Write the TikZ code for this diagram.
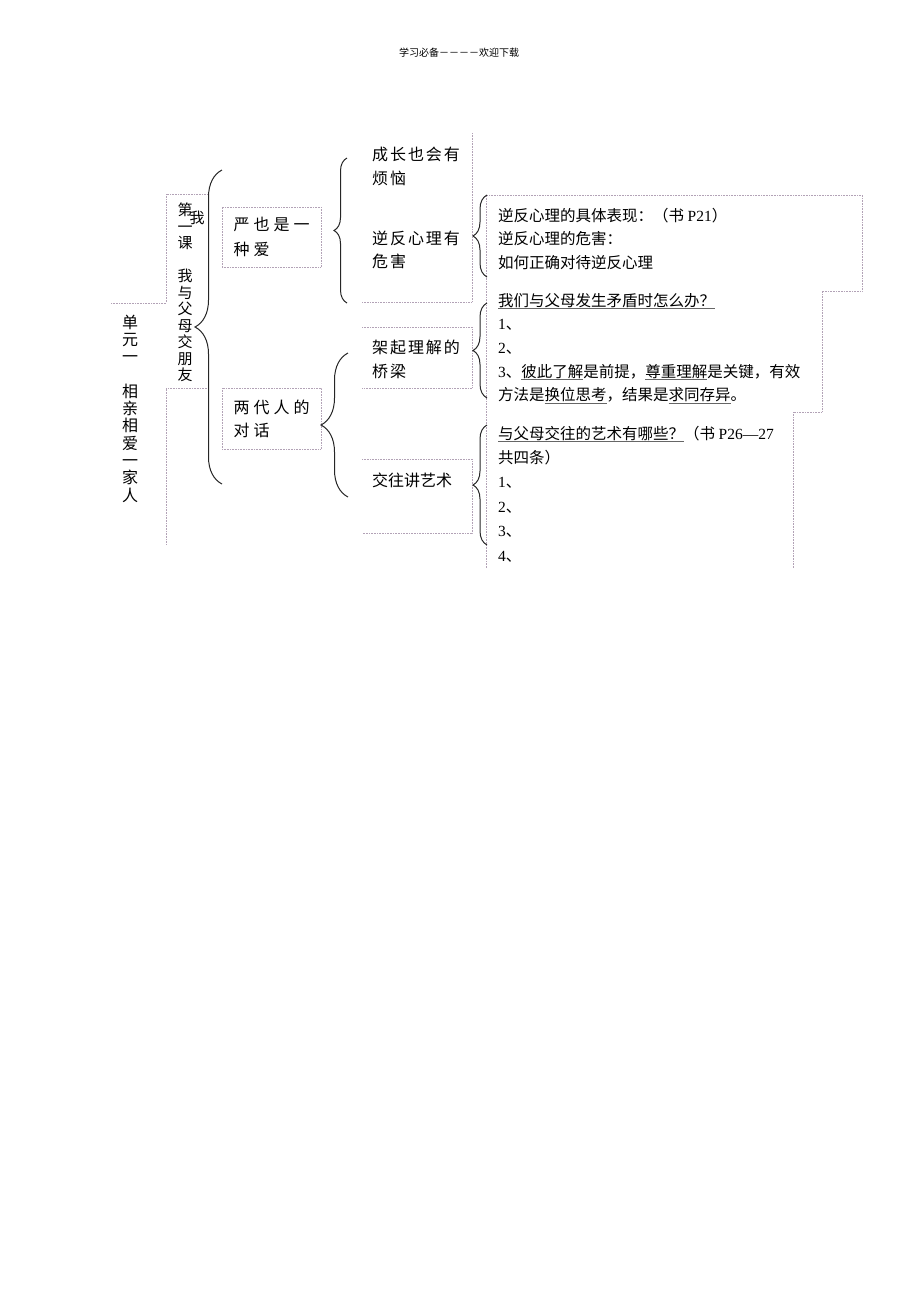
\documentclass[tikz,border=0pt]{standalone}
\usepackage{fontspec}
\usetikzlibrary{decorations.pathreplacing}
\setmainfont{Noto Sans CJK SC}
\newfontfamily\serifnum{Liberation Serif}
\newfontfamily\cjkwide[LetterSpace=25]{Noto Sans CJK SC}
\newfontfamily\cjkmid[LetterSpace=12]{Noto Sans CJK SC}
\definecolor{cellline}{RGB}{178,162,182}
\newcommand\ulmark[1]{\setbox0\hbox{#1}\rlap{\color{black!60}\rule[-3pt]{\wd0}{0.7pt}}\box0}
\begin{document}
\begin{tikzpicture}[x=1pt,y=-1pt,
    cell/.style={draw=cellline,densely dotted,line width=0.6pt},
    curly/.style={draw=black!85,line width=1pt,decorate,decoration={brace,amplitude=#1}},
    celltext/.style={inner sep=0pt,align=left,font=\cjkmid\fontsize{16}{23.5}\selectfont},
    rowtext/.style={anchor=base west,inner sep=0pt,font=\fontsize{15.5}{18}\selectfont}]
  \useasboundingbox (0,0) rectangle (920,1302);
  % page header
  \node[font=\fontsize{10}{12}\selectfont] (head) at (459,53) {学习必备－－－－欢迎下载};
  % frame lines
  \draw[cell] (111,303) -- (166,303) -- (166,194) -- (207,194);
  \draw[cell] (207,388) -- (166,388) -- (166,545);
  \draw[cell] (472,133) -- (472,302) -- (362,302);
  \draw[cell] (362,327) -- (472,327) -- (472,388) -- (362,388);
  \draw[cell] (362,459) -- (472,459) -- (472,533) -- (362,533);
  \draw[cell] (486,568) -- (486,195) -- (862,195) -- (862,291) -- (822,291)
    -- (822,412) -- (793,412) -- (793,568);
  % vertical titles
  \node[align=center,inner sep=0pt,font=\fontsize{16}{17.3}\selectfont] (unit) at (130,408.5)
    {单\\元\\一\\[17.3pt]相\\亲\\相\\爱\\一\\家\\人};
  \node[align=center,inner sep=0pt,font=\fontsize{15}{16.5}\selectfont] (lesson) at (185,292.5)
    {第\\一\\课\\[16.5pt]我\\与\\父\\母\\交\\朋\\友};
  \node[inner sep=0pt,font=\fontsize{15}{16.5}\selectfont] (stray) at (197,218) {我};
  % second level
  \node[celltext,font=\cjkwide\fontsize{16}{25}\selectfont,cell,minimum width=99pt,minimum height=60pt]
    (strict) at (271.5,237) {严也是一\\种爱};
  \node[celltext,font=\cjkwide\fontsize{16}{23}\selectfont,cell,minimum width=99pt,minimum height=61pt]
    (dialog) at (271.5,418.5) {两代人的\\对话};
  % third level
  \node[celltext,anchor=west] (grow) at (372,166.5) {成长也会有\\烦恼};
  \node[celltext,anchor=west] (rebel) at (372,250) {逆反心理有\\危害};
  \node[celltext,anchor=west] (bridge) at (372,359.5) {架起理解的\\桥梁};
  \node[celltext,anchor=west,font=\fontsize{16}{20}\selectfont] (art) at (372,480) {交往讲艺术};
  % braces
  \draw[curly=27] (222,484) -- (222,170);
  \draw[curly=13] (347,303) -- (347,158);
  \draw[curly=14] (487,277) -- (487,195);
  \draw[curly=14] (487,398) -- (487,303);
  \draw[curly=27] (348,497) -- (348,353);
  \draw[curly=14] (487,545) -- (487,425);
  % notes
  \foreach \t [count=\i] in {{逆反心理的具体表现：（书 {\serifnum P21}）},{逆反心理的危害：},{如何正确对待逆反心理}}
    \node[rowtext] (harm-\i) at (498,{221+23.5*(\i-1)}) {\t};
  \foreach \t [count=\i] in {{\ulmark{我们与父母发生矛盾时怎么办？}},{{\serifnum 1}、},{{\serifnum 2}、},
      {{\serifnum 3}、\ulmark{彼此了解}是前提，\ulmark{尊重理解}是关键，有效},
      {方法是\ulmark{换位思考}，结果是\ulmark{求同存异}。}}
    \node[rowtext] (clash-\i) at (498,{306+23.7*(\i-1)}) {\t};
  \foreach \t [count=\i] in {{\ulmark{与父母交往的艺术有哪些？}（书 {\serifnum P26—27}},{共四条）},
      {{\serifnum 1}、},{{\serifnum 2}、},{{\serifnum 3}、},{{\serifnum 4}、}}
    \node[rowtext] (skill-\i) at (498,{439+24.4*(\i-1)}) {\t};
\end{tikzpicture}
\end{document}
